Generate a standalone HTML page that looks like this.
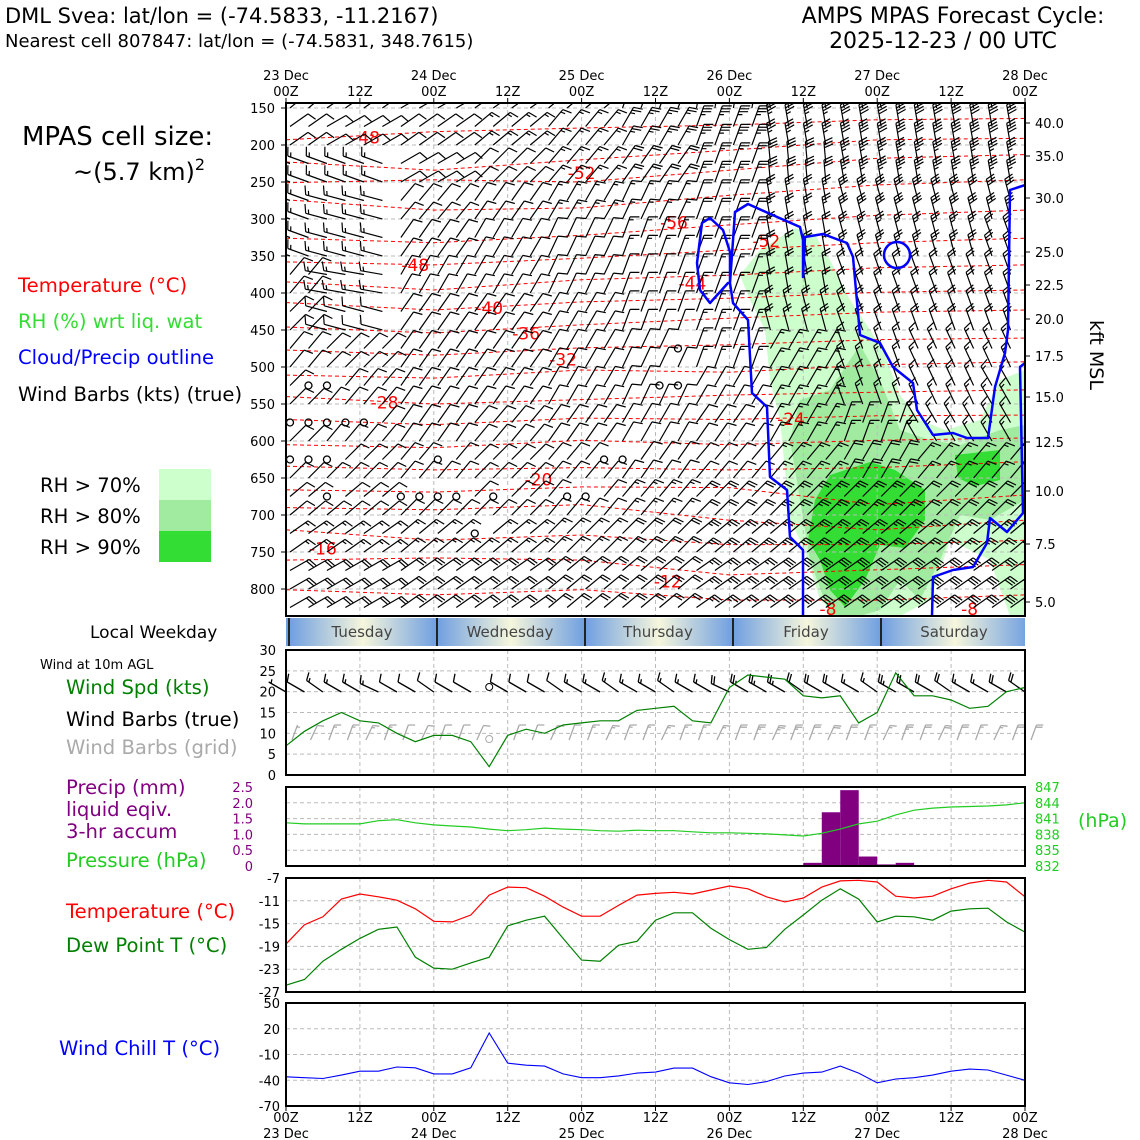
<!DOCTYPE html>
<html><head><meta charset="utf-8"><style>
html,body{margin:0;padding:0;background:#fff}
svg{display:block;font-family:"DejaVu Sans","Liberation Sans",sans-serif}
</style></head><body>
<svg id="chart" width="1140" height="1140" viewBox="0 0 1140 1140" xmlns="http://www.w3.org/2000/svg">
<defs>
<linearGradient id="dayGrad" x1="0" x2="1" y1="0" y2="0">
<stop offset="0" stop-color="#6f9fe0"/><stop offset="0.5" stop-color="#f6f6dc"/><stop offset="1" stop-color="#6f9fe0"/>
</linearGradient>
<clipPath id="topClip"><rect x="286" y="103" width="739" height="513"/></clipPath>
<clipPath id="dayClip"><rect x="286" y="618" width="739" height="28"/></clipPath>
</defs>
<text x="5" y="23" font-size="21">DML Svea: lat/lon = (-74.5833, -11.2167)</text>
<text x="5" y="47" font-size="18">Nearest cell 807847: lat/lon = (-74.5831, 348.7615)</text>
<text x="953" y="23" font-size="22" text-anchor="middle">AMPS MPAS Forecast Cycle:</text>
<text x="943" y="48" font-size="22" text-anchor="middle">2025-12-23 / 00 UTC</text>
<text x="22" y="145" font-size="26">MPAS cell size:</text>
<text x="73" y="180" font-size="24">~(5.7 km)<tspan font-size="16" dy="-10">2</tspan></text>
<text x="18" y="292" font-size="19.6" fill="#ff0000">Temperature (°C)</text>
<text x="18" y="328" font-size="19.6" fill="#33dd33">RH (%) wrt liq. wat</text>
<text x="18" y="364" font-size="19.6" fill="#0000ff">Cloud/Precip outline</text>
<text x="18" y="401" font-size="19.6">Wind Barbs (kts) (true)</text>
<text x="40" y="492" font-size="19.6">RH &gt; 70%</text>
<text x="40" y="523" font-size="19.6">RH &gt; 80%</text>
<text x="40" y="554" font-size="19.6">RH &gt; 90%</text>
<rect x="159" y="469" width="52" height="31" fill="#ccffcc"/>
<rect x="159" y="500" width="52" height="31" fill="#a0eba0"/>
<rect x="159" y="531" width="52" height="31" fill="#33dd33"/>
<text x="90" y="638" font-size="17">Local Weekday</text>
<text x="40" y="669" font-size="13">Wind at 10m AGL</text>
<text x="66" y="694" font-size="19.6" fill="#008000">Wind Spd (kts)</text>
<text x="66" y="726" font-size="19.6">Wind Barbs (true)</text>
<text x="66" y="754" font-size="19.6" fill="#aaaaaa">Wind Barbs (grid)</text>
<text x="66" y="794" font-size="19.6" fill="#800080">Precip (mm)</text>
<text x="66" y="816" font-size="19.6" fill="#800080">liquid eqiv.</text>
<text x="66" y="838" font-size="19.6" fill="#800080">3-hr accum</text>
<text x="66" y="867" font-size="19.6" fill="#22cc22">Pressure (hPa)</text>
<text x="66" y="918" font-size="19.6" fill="#ff0000">Temperature (°C)</text>
<text x="66" y="952" font-size="19.6" fill="#008000">Dew Point T (°C)</text>
<text x="59" y="1055" font-size="19.6" fill="#0000ff">Wind Chill T (°C)</text>
<text x="1078" y="827" font-size="19" fill="#22cc22">(hPa)</text>
<text x="1090" y="355" font-size="19" transform="rotate(90 1090 355)" text-anchor="middle">kft MSL</text>
<g id="g"></g>
</svg>
<script>
// ---------- data ----------
var hours = [];
for (var h = 0; h <= 120; h += 3) hours.push(h);
var windSpd = [7,10.5,13,15,13,12.5,10,8,9.5,9.5,8,2,9.5,11,10,12,12.5,13,13,15.5,16,16.5,13,12.5,21,24,23.5,23,19,18.5,19,12.5,15,24.5,19,19,18,16,16.5,20,21];
var windDirTrue = [300,300,305,300,300,295,300,300,305,300,300,0,300,300,300,305,300,300,305,300,300,305,300,300,295,300,300,300,305,300,300,300,305,300,300,300,305,300,300,300,305];
var windDirGrid = [20,25,20,20,25,20,20,25,20,20,25,0,20,20,25,20,20,25,20,20,25,20,20,25,20,20,25,20,20,25,20,20,25,20,20,25,20,20,25,20,20];
var pressure = [840.2,840.0,840.0,840.0,840.0,840.6,840.8,840.2,839.8,839.6,839.4,839.0,838.7,838.9,839.2,839.0,838.9,838.7,838.6,838.8,838.7,838.7,838.5,838.3,838.3,838.2,838.1,837.9,837.7,838.2,839.0,840.0,840.5,841.7,842.6,843.0,843.2,843.3,843.4,843.6,844.0];
var precipStart = [84,87,90,93,96,99];
var precipAmt = [0.1,1.7,2.4,0.3,0.05,0.1];
var sfcTemp = [-18.6,-15.2,-13.8,-10.7,-9.8,-10.3,-10.9,-12.4,-14.6,-14.7,-13.5,-10,-8.6,-8.7,-10.2,-12.1,-13.7,-13.7,-11.8,-10,-9.7,-9.5,-9.8,-9.1,-8.4,-8.9,-10.3,-11.2,-10.5,-8.6,-7.5,-7.4,-7.7,-10.2,-10.5,-10.2,-8.9,-7.9,-7.4,-7.7,-10.3];
var dewPoint = [-25.8,-24.8,-21.6,-19.5,-17.6,-16,-15.6,-20.9,-22.8,-23,-21.9,-20.9,-15.4,-14.4,-13.7,-17.6,-21.4,-21.6,-18.8,-18.1,-14.4,-13.1,-13.1,-15.8,-17.8,-19.5,-19.2,-16,-13.5,-10.9,-8.9,-10.7,-14.7,-13.7,-13.8,-14.4,-12.8,-12.4,-12.3,-14.7,-16.5];
var windChill = [-36,-37,-38,-34,-29.5,-29.5,-24.6,-25.5,-32.6,-32.6,-25.5,15,-20,-22.5,-23.5,-32.6,-37,-37,-34.9,-31.7,-30.5,-25.8,-25.8,-35.9,-43,-45,-41.6,-35,-31.7,-30.5,-23.5,-31.7,-43,-38.5,-37,-34,-29.5,-27,-28,-34,-40];
var barbLevels = [150,200,250,300,350,400,450,500,550,600,650,700,750,800];
var barbCols = [0,12,24,36,48,60,72,84,96,108,120];
var barbDir = [
[50,55,60,55,50,20,10,350,350,350,350],
[55,60,55,50,40,30,20,350,350,350,350],
[290,290,60,45,40,35,20,355,350,350,350],
[290,285,40,35,30,25,20,350,345,345,345],
[290,285,35,30,25,20,20,350,345,345,340],
[40,280,30,30,25,20,20,350,340,340,340],
[45,285,35,35,30,20,20,345,340,340,340],
[40,45,35,35,30,25,20,30,340,335,335],
[45,40,35,35,30,25,30,30,340,335,330],
[45,40,35,40,35,30,35,30,20,330,330],
[45,45,40,45,40,35,40,40,30,40,40],
[50,50,45,45,40,40,45,45,45,45,45],
[55,55,50,50,45,45,50,50,50,50,50],
[60,60,55,55,50,50,55,55,55,55,55]];
var barbSpd = [
[10,10,10,15,15,25,35,40,40,40,40],
[10,10,10,15,15,25,35,35,40,40,40],
[15,15,10,10,15,20,25,30,35,35,35],
[15,15,10,10,15,15,20,25,30,30,30],
[15,15,10,10,10,15,20,20,25,25,25],
[10,15,10,10,10,10,15,20,20,20,20],
[10,10,10,10,10,10,15,20,20,20,20],
[10,10,10,10,10,10,15,15,15,15,15],
[10,10,10,10,10,10,10,15,15,15,15],
[10,10,10,10,10,10,10,15,15,15,15],
[10,10,10,10,10,10,10,15,20,15,15],
[10,10,10,10,10,15,20,25,25,20,20],
[15,15,15,15,15,20,25,25,25,25,25],
[20,20,20,20,20,20,25,30,30,30,30]];
var calmT = [3,6,0,3,6,9,12,0,3,6,24,6,18,21,24,27,33,30,45,48,51,54,60,63,63];
var calmP = [525,525,575,575,575,575,575,625,625,625,625,675,675,675,675,675,675,725,675,675,625,625,525,525,475];
var contourHours = [0,24,48,72,96,120];
var contours = [
[193,182,177,173,166,164],[223,234,220,207,193,191],[251,247,250,234,218,213],[274,288,285,268,254,247],
[326,332,322,308,295,288],[358,362,353,342,332,326],[385,396,382,376,366,362],[413,423,412,407,399,396],
[446,454,443,434,426,423],[477,484,474,470,463,461],[511,515,504,507,497,493],[540,550,544,538,534,531],
[571,578,569,571,566,565],[605,609,599,605,599,596],[634,639,636,639,636,628],[666,669,662,663,686,673],
[690,693,686,707,720,707],[720,734,727,740,740,734],[761,758,761,781,774,767],[801,808,801,815,815,808]];
var contourLabels = ["-48","-52","-56","-52","-48","-44","-40","-36","-32","-28","-24","-20","-16","-12","-8","-8"];
var contourLabelT = [13,48,63,78,21,66,33,39,45,16,82,41,6,62,88,111];
var contourLabelP = [190,238,305,330,362,387,420,455,490,548,570,652,745,790,827,827];
// ---------- scales ----------
var X0=286,X1=1025;
function X(t){return X0+t*(X1-X0)/120;}
function P(p){return 108+(p-150)*0.74;}
function WY(v){return 775-v*125/30;}
function PRY(v){return 866-v*79/2.5;}
function HY(h){return 866-(h-832)*79/15;}
function TY(v){return 878+(-7-v)*114/20;}
function CY(v){return 1003+(50-v)*103/120;}
var NS="http://www.w3.org/2000/svg";
var rootG=document.getElementById('g');
function el(tag,attrs,parent){var e=document.createElementNS(NS,tag);for(var k in attrs)e.setAttribute(k,attrs[k]);(parent||rootG).appendChild(e);return e;}
function txt(x,y,s,size,fill,anchor,parent){var e=el('text',{x:x,y:y,'font-size':size,fill:fill||'#000','text-anchor':anchor||'start'},parent);e.textContent=s;return e;}
function barb(x,y,dir,spd,L,col,w,parent){
  var r=dir*Math.PI/180, sx=Math.sin(r), sy=-Math.cos(r);
  var tx=x+sx*L, ty=y+sy*L;
  var d='M'+x.toFixed(1)+' '+y.toFixed(1)+'L'+tx.toFixed(1)+' '+ty.toFixed(1);
  var px=-sy, py=sx;
  var s=Math.round(spd/5)*5, pos=0, fl=L*0.4, step=L*0.14;
  function seg(bx,by,ex,ey){d+='M'+bx.toFixed(1)+' '+by.toFixed(1)+'L'+ex.toFixed(1)+' '+ey.toFixed(1);}
  while(s>=50){var bx=tx-sx*pos,by=ty-sy*pos;d+='M'+bx+' '+by+'L'+(bx+px*fl)+' '+(by+py*fl)+'L'+(bx-sx*step*1.5)+' '+(by-sy*step*1.5);s-=50;pos+=step*1.8;}
  while(s>=10){var bx2=tx-sx*pos,by2=ty-sy*pos;seg(bx2,by2,bx2+px*fl+sx*fl*0.35,by2+py*fl+sy*fl*0.35);s-=10;pos+=step;}
  if(s>=5){if(pos===0)pos=step;var bx3=tx-sx*pos,by3=ty-sy*pos;seg(bx3,by3,bx3+px*fl*0.5+sx*fl*0.17,by3+py*fl*0.5+sy*fl*0.17);}
  return el('path',{d:d,stroke:col,'stroke-width':w,fill:'none'},parent);
}
function line(xs,ys,col,w,dash,name,parent){
  var d='';for(var i=0;i<xs.length;i++)d+=(i?'L':'M')+xs[i].toFixed(1)+' '+ys[i].toFixed(1);
  var p=el('path',{d:d,stroke:col,'stroke-width':w,fill:'none'},parent);
  if(dash)p.setAttribute('stroke-dasharray',dash);
  
  
  return p;
}
function vgrid(y0,y1,parent){for(var t=12;t<120;t+=12){el('line',{x1:X(t),x2:X(t),y1:y0,y2:y1,stroke:'#bbb','stroke-dasharray':'4,3','stroke-width':1},parent);}}
function poly(pts,fill,name,parent){var p=el('polygon',{points:pts.map(function(a){return a.join(',');}).join(' '),fill:fill},parent);return p;}

// ---------- top panel ----------
var topG=el('g',{'clip-path':'url(#topClip)'});


poly([[740,275],[760,250],[795,228],[815,235],[830,260],[850,300],[870,330],[885,355],[900,395],[920,420],[945,430],[980,420],[1000,380],[1025,370],[1025,616],[1010,616],[990,560],[950,540],[930,600],[900,616],[840,616],[820,600],[805,550],[790,520],[785,470],[780,420],[770,380],[765,330],[750,300]],'#ccffcc','rh70-area',topG);
poly([[790,440],[800,400],[830,390],[860,345],[880,380],[900,430],[930,440],[960,445],[1000,430],[1025,425],[1025,500],[990,520],[960,515],[940,560],[920,600],[900,580],[880,610],[860,616],[830,616],[810,560],[800,500]],'#a0eba0','rh80-area',topG);
poly([[815,500],[830,475],[870,462],[895,470],[925,490],[925,520],[905,548],[880,545],[865,580],[845,607],[830,590],[820,560],[808,540]],'#33dd33','rh90-area',topG);
poly([[955,455],[1000,450],[1000,480],[975,486],[958,478]],'#33dd33','rh90-area-2',topG);
vgrid(103,616,topG);
for(var pl=150;pl<=800;pl+=50){el('line',{x1:X0,x2:X1,y1:P(pl),y2:P(pl),stroke:'#bbb','stroke-dasharray':'4,3','stroke-width':1},topG);}
contours.forEach(function(c,i){line(contourHours.map(X),c.map(P),'#ff0000',1,'4,3','temp-contour-'+i,topG);});
contourLabels.forEach(function(s,i){
  var t=txt(X(contourLabelT[i]),P(contourLabelP[i])+6,s,17,'#ff0000','middle',topG);
  
  
});
var calmSet={};calmT.forEach(function(t,i){calmSet[t+'_'+calmP[i]]=1;});
for(var tt=0;tt<=117;tt+=3){for(var pp=150;pp<=825;pp+=25){
  if(calmSet[tt+'_'+pp])continue;
  var ri=Math.min(barbLevels.length-1,Math.round((pp-150)/50)), ci=Math.round(tt/12);
  var b=barb(X(tt)+4,P(pp),barbDir[ri][ci],barbSpd[ri][ci],22,'#000',1.2,topG);
  
  
}}
calmT.forEach(function(t,i){var c=el('circle',{cx:X(t)+4,cy:P(calmP[i]),r:3.5,fill:'none',stroke:'#000','stroke-width':1.3},topG);
  
  });
var cloud='M803,616 L803,550 790,537 787,490 770,477 767,407 752,393 748,320 733,303 730,283 735,212 748,204 768,213 800,227 803,240 803,277 805,237 823,234 847,243 853,257 860,335 880,343 893,367 913,383 917,410 933,435 953,433 967,438 988,438 995,387 1005,353 1008,330 1010,190 1025,185 '+
 'M730,283 L728,283 710,303 700,290 697,263 702,223 710,218 723,230 730,252 730,283 '+
 'M1025,363 L1020,367 1023,513 1007,532 990,518 987,543 973,567 953,570 933,577 932,616';
var cp=el('path',{d:cloud,stroke:'#0000ff','stroke-width':2.5,fill:'none','stroke-linejoin':'round'},topG);


var cc=el('circle',{cx:897,cy:255,r:13,stroke:'#0000ff','stroke-width':2.5,fill:'none'},topG);


el('rect',{x:X0,y:103,width:739,height:513,fill:'none',stroke:'#000','stroke-width':2});
var pLabs=[150,200,250,300,350,400,450,500,550,600,650,700,750,800];
pLabs.forEach(function(p){txt(275,P(p)+5,String(p),13,'#000','end');el('line',{x1:X0-5,x2:X0,y1:P(p),y2:P(p),stroke:'#000'});});
var kftLab=['40.0','35.0','30.0','25.0','22.5','20.0','17.5','15.0','12.5','10.0','7.5','5.0'];
var kftY=[123,156,198,252,285,319,356,397,442,491,544,602];
kftLab.forEach(function(s,i){txt(1035,kftY[i]+5,s,13,'#000','start');el('line',{x1:X1,x2:X1+5,y1:kftY[i],y2:kftY[i],stroke:'#000'});});
var dayNames=['23 Dec','24 Dec','25 Dec','26 Dec','27 Dec','28 Dec'];
for(var t1=0;t1<=120;t1+=12){
  if(t1%24===0){txt(X(t1),80,dayNames[t1/24],13,'#000','middle');txt(X(t1),96,'00Z',13,'#000','middle');}
  else txt(X(t1),96,'12Z',13,'#000','middle');
  el('line',{x1:X(t1),x2:X(t1),y1:98,y2:103,stroke:'#000'});
}
// weekday bar
var days=['Tuesday','Wednesday','Thursday','Friday','Saturday'];
var wbG=el('g',{'clip-path':'url(#dayClip)'});


el('rect',{x:286,y:618,width:5,height:28,fill:'#6f9fe0'},wbG);
days.forEach(function(d,i){var x=289+i*148;el('rect',{x:x,y:618,width:148,height:28,fill:'url(#dayGrad)'},wbG);
  el('line',{x1:x,x2:x,y1:618,y2:646,stroke:'#222','stroke-width':2},wbG);txt(x+73,637,d,15,'#444','middle',wbG);});
// ---------- wind panel ----------
var wpG=el('g',{});
vgrid(650,775,wpG);
[5,10,15,20,25].forEach(function(v){el('line',{x1:X0,x2:X1,y1:WY(v),y2:WY(v),stroke:'#bbb','stroke-dasharray':'4,3'},wpG);});
[0,5,10,15,20,25,30].forEach(function(v){txt(276,WY(v)+5,String(v),13,'#000','end',wpG);});
hours.forEach(function(h,i){
  if(windSpd[i]<2.5){el('circle',{cx:X(h),cy:687,r:3.5,fill:'none',stroke:'#000'},wpG);el('circle',{cx:X(h),cy:739,r:3.5,fill:'none',stroke:'#aaa'},wpG);return;}
  var b1=barb(X(h),692,windDirTrue[i],windSpd[i],20,'#000',1.3,wpG);
  
  
  var b2=barb(X(h)+6,740,windDirGrid[i],windSpd[i],16,'#aaa',1.3,wpG);
  
  
});
line(hours.map(X),windSpd.map(WY),'#008000',1.2,null,'wind-speed-line',wpG);
el('rect',{x:X0,y:650,width:739,height:125,fill:'none',stroke:'#000','stroke-width':2});
// ---------- precip / pressure ----------
var ppG=el('g',{});
vgrid(787,866,ppG);
[0.5,1,1.5,2].forEach(function(v){el('line',{x1:X0,x2:X1,y1:PRY(v),y2:PRY(v),stroke:'#bbb','stroke-dasharray':'4,3'},ppG);});
['0','0.5','1.0','1.5','2.0','2.5'].forEach(function(s,i){txt(253,PRY(i*0.5)+5,s,13,'#800080','end',ppG);});
[832,835,838,841,844,847].forEach(function(h){txt(1035,HY(h)+5,String(h),13,'#22cc22','start',ppG);});
precipStart.forEach(function(h,i){var r=el('rect',{x:X(h),y:PRY(precipAmt[i]),width:X(h+3)-X(h),height:866-PRY(precipAmt[i]),fill:'#800080'},ppG);
  
  });
line(hours.map(X),pressure.map(HY),'#22cc22',1.2,null,'pressure-line',ppG);
el('rect',{x:X0,y:787,width:739,height:79,fill:'none',stroke:'#000','stroke-width':2});
// ---------- temperature ----------
var tpG=el('g',{});
vgrid(878,992,tpG);
[-11,-15,-19,-23].forEach(function(v){el('line',{x1:X0,x2:X1,y1:TY(v),y2:TY(v),stroke:'#bbb','stroke-dasharray':'4,3'},tpG);});
[-7,-11,-15,-19,-23,-27].forEach(function(v){txt(280,TY(v)+5,String(v),13,'#000','end',tpG);});
line(hours.map(X),sfcTemp.map(TY),'#ff0000',1.2,null,'temperature-line',tpG);
line(hours.map(X),dewPoint.map(TY),'#008000',1.2,null,'dewpoint-line',tpG);
el('rect',{x:X0,y:878,width:739,height:114,fill:'none',stroke:'#000','stroke-width':2});
// ---------- wind chill ----------
var wcG=el('g',{});
vgrid(1003,1106,wcG);
[20,-10,-40].forEach(function(v){el('line',{x1:X0,x2:X1,y1:CY(v),y2:CY(v),stroke:'#bbb','stroke-dasharray':'4,3'},wcG);});
[50,20,-10,-40,-70].forEach(function(v){txt(280,CY(v)+5,String(v),13,'#000','end',wcG);});
line(hours.map(X),windChill.map(CY),'#0000ff',1.1,null,'wind-chill-line',wcG);
el('rect',{x:X0,y:1003,width:739,height:103,fill:'none',stroke:'#000','stroke-width':2});
for(var t2=0;t2<=120;t2+=12){
  txt(X(t2),1122,t2%24===0?'00Z':'12Z',13,'#000','middle');
  if(t2%24===0)txt(X(t2),1138,dayNames[t2/24],13,'#000','middle');
  el('line',{x1:X(t2),x2:X(t2),y1:1106,y2:1111,stroke:'#000'});
}
</script>
</body></html>
